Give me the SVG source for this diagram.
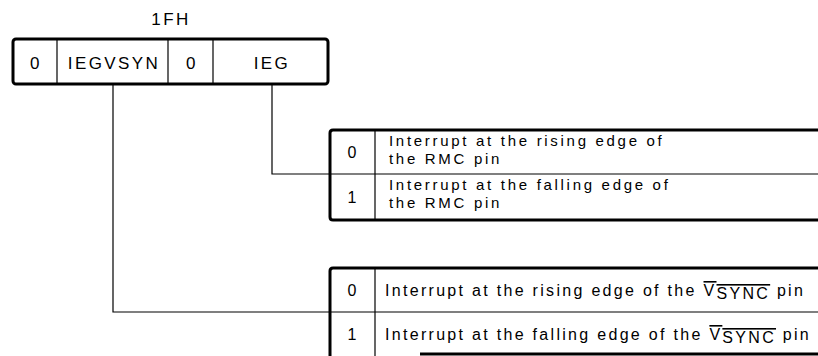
<svg xmlns="http://www.w3.org/2000/svg" width="818" height="356" viewBox="0 0 818 356">
<style>
.bg{fill:#fff}
.thick{fill:none;stroke:#000;stroke-width:3;stroke-linejoin:round}
.thin{fill:none;stroke:#000;stroke-width:1.2}
.conn{fill:none;stroke:#000;stroke-width:1.2}
.reg{font-family:"Liberation Sans",Arial,sans-serif;font-size:17px;letter-spacing:2.4px;fill:#000;text-anchor:middle}
.tx{font-family:"Liberation Sans",Arial,sans-serif;font-size:16px;letter-spacing:2.3px;fill:#000}
.tx2{font-family:"Liberation Sans",Arial,sans-serif;font-size:15px;letter-spacing:2.7px;fill:#000}
.bit{font-family:"Liberation Sans",Arial,sans-serif;font-size:16px;fill:#000;text-anchor:middle}
</style>
<rect class="bg" x="0" y="0" width="818" height="356"/>
<g id="title"><text class="reg" x="171" y="25">1FH</text></g>
<g id="register">
  <rect class="thick" x="13" y="39" width="315" height="45" rx="3"/>
  <line class="thin" x1="57" y1="39" x2="57" y2="84"/>
  <line class="thin" x1="168" y1="39" x2="168" y2="84"/>
  <line class="thin" x1="213" y1="39" x2="213" y2="84"/>
  <text class="reg" x="36" y="69">0</text>
  <text class="reg" x="114" y="69">IEGVSYN</text>
  <text class="reg" x="192" y="69">0</text>
  <text class="reg" x="272" y="69">IEG</text>
</g>
<g id="connectors">
  <polyline class="conn" points="272,84 272,174 330,174"/>
  <polyline class="conn" points="113,84 113,312 330,312"/>
</g>
<g id="table-ieg">
  <path class="thick" d="M818,130 H333 Q330,130 330,133 V217 Q330,220 333,220 H818"/>
  <line class="thin" x1="330" y1="174" x2="818" y2="174"/>
  <line class="thin" x1="375" y1="130" x2="375" y2="220"/>
  <text class="bit" x="352" y="158">0</text>
  <text class="bit" x="352" y="203">1</text>
  <text class="tx2" x="389" y="146">Interrupt at the rising edge of</text>
  <text class="tx2" x="389" y="164">the RMC pin</text>
  <text class="tx2" x="389" y="190">Interrupt at the falling edge of</text>
  <text class="tx2" x="389" y="208">the RMC pin</text>
</g>
<g id="table-iegvsyn">
  <path class="thick" d="M818,268 H333 Q330,268 330,271 V356"/>
  <line class="thin" x1="330" y1="312" x2="818" y2="312"/>
  <line class="thin" x1="375" y1="268" x2="375" y2="356"/>
  <line class="thick" x1="420" y1="354" x2="818" y2="354"/>
  <text class="bit" x="352" y="296">0</text>
  <text class="bit" x="352" y="340">1</text>
  <text class="tx" x="385" y="296">Interrupt at the rising edge of the <tspan text-decoration="overline">V<tspan dy="3">SYNC</tspan></tspan><tspan dy="-3"> pin</tspan></text>
  <text class="tx" x="385" y="340">Interrupt at the falling edge of the <tspan text-decoration="overline">V<tspan dy="3">SYNC</tspan></tspan><tspan dy="-3"> pin</tspan></text>
</g>
</svg>
